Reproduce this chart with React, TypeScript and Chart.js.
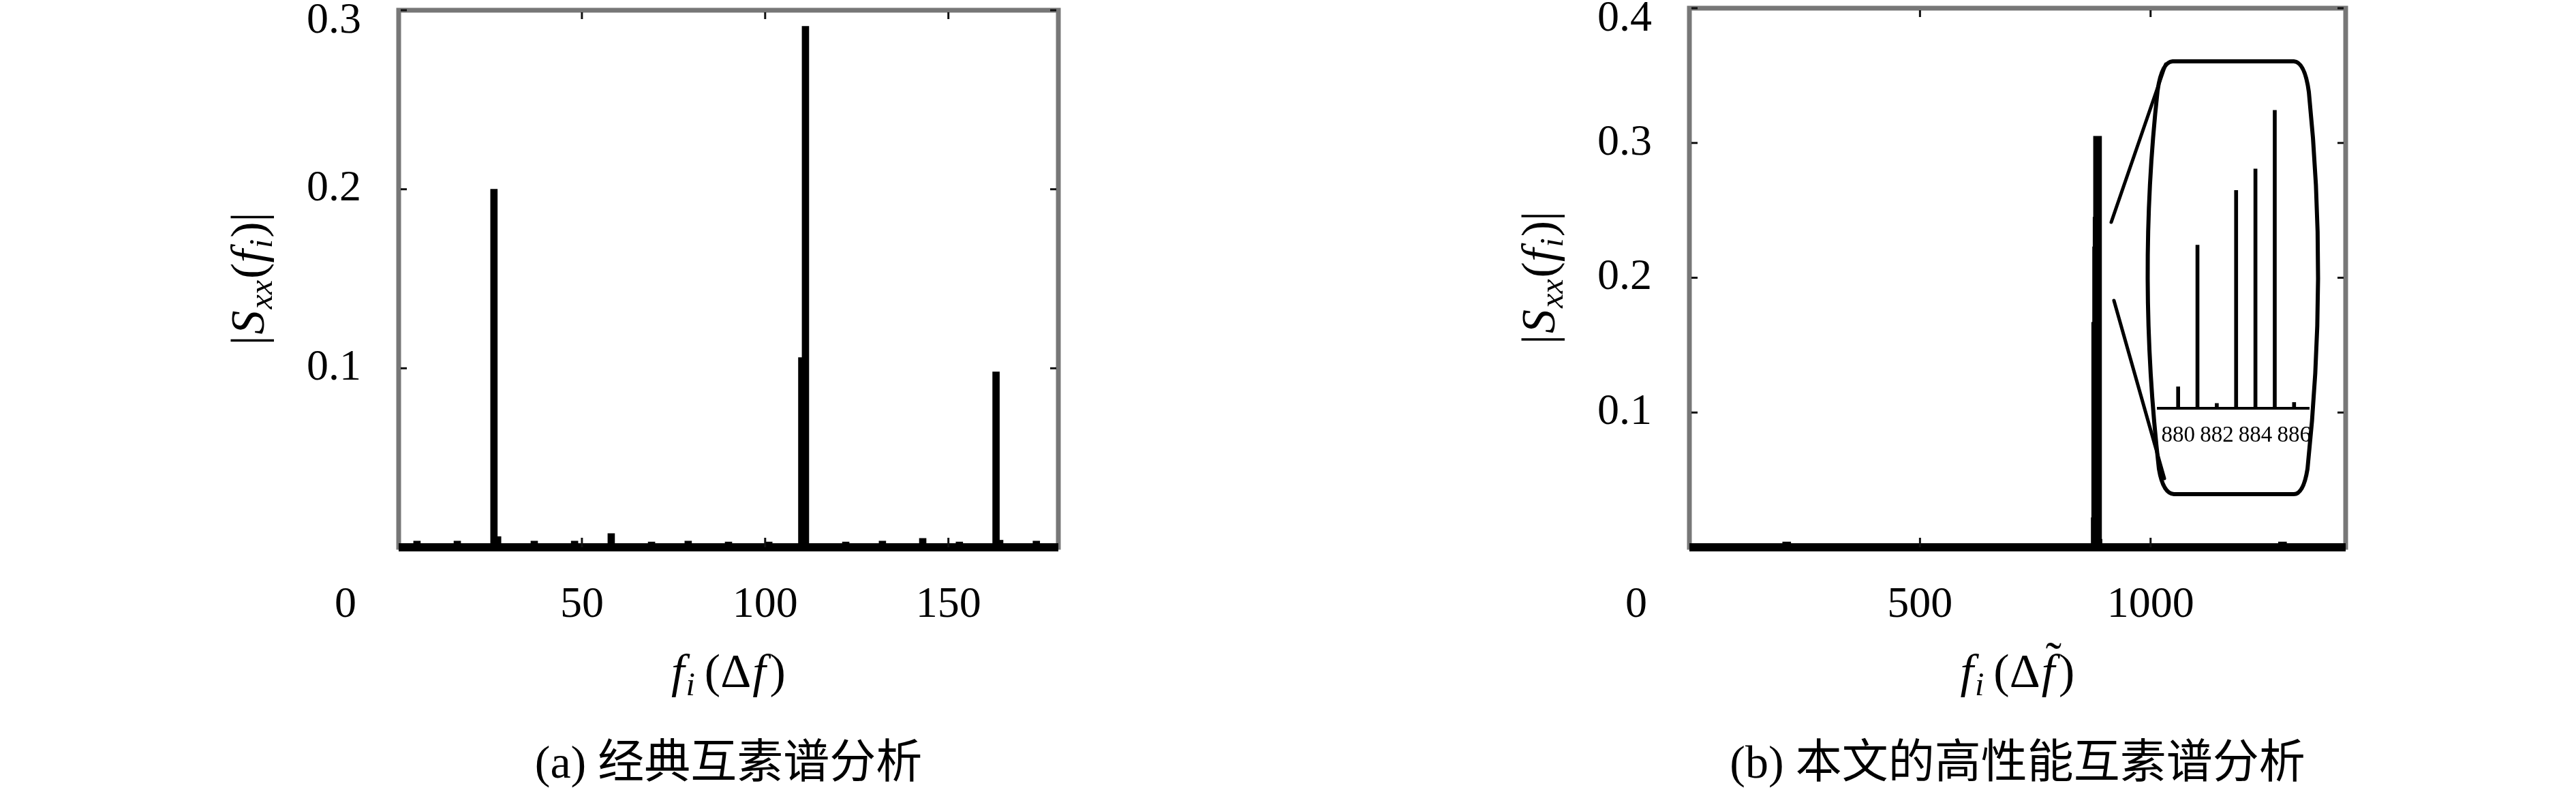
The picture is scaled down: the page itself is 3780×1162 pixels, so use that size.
import React, { useEffect, useRef } from 'react';
import { Chart, registerables } from 'chart.js';
Chart.register(...registerables);

// ---------- data: panel (a) classical coprime spectrum ----------
const leftBins = [5, 16, 26, 27, 37, 48, 58, 69, 79, 90, 101, 110, 111, 122, 132, 143, 153, 163, 164, 174];
const leftMagnitudes = [0.0035, 0.0035, 0.2, 0.006, 0.0035, 0.0035, 0.0077, 0.003, 0.0035, 0.003, 0.003, 0.106, 0.291, 0.003, 0.0035, 0.005, 0.003, 0.098, 0.004, 0.0035];
const leftXTicks = [50, 100, 150];
const leftYTicks = [0.1, 0.2, 0.3];
const leftYTickLabels = ['0.1', '0.2', '0.3'];
const leftXMax = 180;
const leftYMax = 0.3;

// ---------- data: panel (b) proposed high-performance spectrum ----------
const rightBins = [211, 879, 880, 881, 882, 883, 884, 885, 886, 1286];
const rightMagnitudes = [0.004, 0.001, 0.022, 0.167, 0.005, 0.223, 0.245, 0.305, 0.006, 0.004];
const rightXTicks = [500, 1000];
const rightYTicks = [0.1, 0.2, 0.3, 0.4];
const rightYTickLabels = ['0.1', '0.2', '0.3', '0.4'];
const rightXMax = 1423;
const rightYMax = 0.4;

// ---------- inset (zoom of panel b around the peak) ----------
const insetXMin = 878.9;
const insetXMax = 886.8;
const insetYMax = 0.33;
const insetTickValues = [880, 882, 884, 886];

const SERIF = '"Liberation Serif", "DejaVu Serif", serif';
const CJK = '"Noto Sans CJK SC", "Noto Sans CJK JP", sans-serif';

type Seg = { t: string; font: string; dy?: number; gap?: number };

function drawSegs(ctx: CanvasRenderingContext2D, segs: Seg[], cx: number, baseline: number): number[] {
  const widths = segs.map((s) => {
    ctx.font = s.font;
    return ctx.measureText(s.t).width + (s.gap || 0);
  });
  const total = widths.reduce((a, b) => a + b, 0);
  let x = cx - total / 2;
  const starts: number[] = [];
  ctx.textAlign = 'left';
  ctx.textBaseline = 'alphabetic';
  segs.forEach((s, i) => {
    ctx.font = s.font;
    starts.push(x);
    ctx.fillText(s.t, x, baseline + (s.dy || 0));
    x += widths[i];
  });
  return starts;
}

type Spec = {
  bins: number[];
  mags: number[];
  xMax: number;
  yMax: number;
  xTicks: number[];
  yTicks: number[];
  yTickLabels: string[];
  tilde: boolean;
  capPrefix: string;
  capText: string;
  barWidth: number;
};

function decorPlugin(spec: Spec) {
  return {
    id: 'decor',
    beforeDatasetsDraw(chart: any) {
      const { ctx, chartArea: a } = chart;
      ctx.save();
      ctx.strokeStyle = '#777777';
      ctx.lineWidth = 7;
      ctx.strokeRect(a.left, a.top, a.right - a.left, a.bottom - a.top);
      ctx.restore();
    },
    afterDatasetsDraw(chart: any) {
      const { ctx, chartArea: a, scales } = chart;
      const xs = scales.x;
      const ys = scales.y;
      ctx.save();
      ctx.strokeStyle = '#111';
      ctx.lineWidth = 3;
      const seg = (x1: number, y1: number, x2: number, y2: number) => {
        ctx.beginPath();
        ctx.moveTo(x1, y1);
        ctx.lineTo(x2, y2);
        ctx.stroke();
      };
      spec.xTicks.forEach((v) => {
        const px = xs.getPixelForValue(v);
        seg(px, a.top + 3, px, a.top + 13);
        seg(px, a.bottom - 14, px, a.bottom);
      });
      spec.yTicks.forEach((v) => {
        const py = ys.getPixelForValue(v);
        seg(a.left + 3, py, a.left + 12, py);
        seg(a.right - 12, py, a.right - 3, py);
      });
      ctx.fillStyle = '#000';
      ctx.font = `64px ${SERIF}`;
      ctx.textBaseline = 'middle';
      ctx.textAlign = 'center';
      spec.xTicks.forEach((v) => {
        ctx.fillText(String(v), xs.getPixelForValue(v), a.bottom + 85);
      });
      ctx.fillText('0', a.left - 78, a.bottom + 85);
      ctx.textAlign = 'right';
      spec.yTicks.forEach((v, i) => {
        const py = Math.max(ys.getPixelForValue(v), a.top + 16);
        ctx.fillText(spec.yTickLabels[i], a.left - 55, py);
      });
      const cx = (a.left + a.right) / 2;
      const big = 70;
      const small = 48;
      const starts = drawSegs(
        ctx,
        [
          { t: 'f', font: `italic ${big}px ${SERIF}`, gap: 2 },
          { t: 'i', font: `italic ${small}px ${SERIF}`, dy: 12, gap: 14 },
          { t: '(', font: `${big}px ${SERIF}` },
          { t: 'Δ', font: `${big}px ${SERIF}`, gap: 2 },
          { t: 'f', font: `italic ${big}px ${SERIF}`, gap: 6 },
          { t: ')', font: `${big}px ${SERIF}` },
        ],
        cx,
        a.bottom + 205
      );
      if (spec.tilde) {
        ctx.font = `${big}px ${SERIF}`;
        ctx.textAlign = 'left';
        ctx.fillText('˜', starts[4] + 6, a.bottom + 205 - 18);
      }
      ctx.save();
      ctx.translate(a.left - 222, (a.top + a.bottom) / 2);
      ctx.rotate(-Math.PI / 2);
      drawSegs(
        ctx,
        [
          { t: '|', font: `${big}px ${SERIF}`, gap: 2 },
          { t: 'S', font: `italic ${big}px ${SERIF}`, gap: 2 },
          { t: 'xx', font: `italic ${small}px ${SERIF}`, dy: 12, gap: 2 },
          { t: '(', font: `${big}px ${SERIF}` },
          { t: 'f', font: `italic ${big}px ${SERIF}`, gap: 2 },
          { t: 'i', font: `italic ${small}px ${SERIF}`, dy: 12, gap: 2 },
          { t: ')', font: `${big}px ${SERIF}` },
          { t: '|', font: `${big}px ${SERIF}` },
        ],
        0,
        24
      );
      ctx.restore();
      ctx.fillStyle = '#000';
      ctx.font = `68px ${SERIF}`;
      const w1 = ctx.measureText(spec.capPrefix).width;
      ctx.font = `68px ${CJK}`;
      const w2 = ctx.measureText(spec.capText).width;
      const x0 = cx - (w1 + w2) / 2;
      ctx.textAlign = 'left';
      ctx.textBaseline = 'alphabetic';
      ctx.font = `68px ${SERIF}`;
      ctx.fillText(spec.capPrefix, x0, a.bottom + 338);
      ctx.font = `68px ${CJK}`;
      ctx.fillText(spec.capText, x0 + w1, a.bottom + 338);
      ctx.restore();
    },
  };
}

const barrelPlugin = {
  id: 'barrel',
  afterDraw(chart: any) {
    const ctx = chart.ctx as CanvasRenderingContext2D;
    const ox = 1890;
    const X = (v: number) => v - ox;
    ctx.save();
    ctx.strokeStyle = '#000';
    ctx.lineCap = 'round';
    ctx.lineJoin = 'round';
    ctx.lineWidth = 6;
    ctx.beginPath();
    ctx.moveTo(X(3188), 90);
    ctx.lineTo(X(3366), 90);
    ctx.quadraticCurveTo(X(3382), 91, X(3388), 135);
    ctx.quadraticCurveTo(X(3416), 407, X(3386), 688);
    ctx.quadraticCurveTo(X(3380), 725, X(3366), 725);
    ctx.lineTo(X(3190), 725);
    ctx.quadraticCurveTo(X(3174), 724, X(3168), 688);
    ctx.quadraticCurveTo(X(3136), 407, X(3166), 133);
    ctx.quadraticCurveTo(X(3172), 91, X(3188), 90);
    ctx.closePath();
    ctx.stroke();
    ctx.lineWidth = 5;
    ctx.beginPath();
    ctx.moveTo(X(3098), 326);
    ctx.lineTo(X(3178), 94);
    ctx.moveTo(X(3102), 441);
    ctx.lineTo(X(3176), 702);
    ctx.stroke();
    ctx.restore();
  },
};

function makePanel(canvas: HTMLCanvasElement, spec: Spec, padding: any, extra: any[]) {
  const bars = spec.bins.map((b, i) => ({ x: b, y: spec.mags[i] }));
  return new Chart(canvas, {
    type: 'bar',
    data: {
      datasets: [
        {
          type: 'line',
          data: [
            { x: 0, y: 0 },
            { x: spec.xMax, y: 0 },
          ],
          borderColor: '#000',
          borderWidth: 12,
          pointRadius: 0,
          clip: false as any,
          order: 0,
        } as any,
        {
          type: 'bar',
          data: bars,
          backgroundColor: '#000',
          borderWidth: 0,
          barThickness: spec.barWidth,
          order: 1,
        } as any,
      ],
    },
    options: {
      responsive: false,
      animation: false,
      devicePixelRatio: 1,
      layout: { padding },
      plugins: { legend: { display: false }, tooltip: { enabled: false }, title: { display: false } },
      scales: {
        x: { type: 'linear', min: 0, max: spec.xMax, display: false, offset: false },
        y: { type: 'linear', min: 0, max: spec.yMax, display: false },
      },
    } as any,
    plugins: [decorPlugin(spec), ...extra],
  });
}

function makeInset(canvas: HTMLCanvasElement) {
  const bars = rightBins
    .map((b, i) => ({ x: b, y: rightMagnitudes[i] }))
    .filter((p) => p.x >= insetXMin && p.x <= insetXMax);
  const labels = {
    id: 'insetLabels',
    afterDatasetsDraw(chart: any) {
      const { ctx, chartArea: a, scales } = chart;
      ctx.save();
      ctx.fillStyle = '#000';
      ctx.font = `33px ${SERIF}`;
      ctx.textAlign = 'center';
      ctx.textBaseline = 'middle';
      insetTickValues.forEach((v) => ctx.fillText(String(v), scales.x.getPixelForValue(v), a.bottom + 40));
      ctx.restore();
    },
  };
  return new Chart(canvas, {
    type: 'bar',
    data: {
      datasets: [
        {
          type: 'line',
          data: [
            { x: insetXMin, y: 0 },
            { x: insetXMax, y: 0 },
          ],
          borderColor: '#000',
          borderWidth: 4,
          pointRadius: 0,
          clip: false as any,
          order: 0,
        } as any,
        {
          type: 'bar',
          data: bars,
          backgroundColor: '#000',
          borderWidth: 0,
          barThickness: 5,
          order: 1,
        } as any,
      ],
    },
    options: {
      responsive: false,
      animation: false,
      devicePixelRatio: 1,
      layout: { padding: { left: 25, right: 31, top: 46, bottom: 81 } },
      plugins: { legend: { display: false }, tooltip: { enabled: false } },
      scales: {
        x: { type: 'linear', min: insetXMin, max: insetXMax, display: false, offset: false },
        y: { type: 'linear', min: 0, max: insetYMax, display: false },
      },
    } as any,
    plugins: [labels],
  });
}

const leftSpec: Spec = {
  bins: leftBins,
  mags: leftMagnitudes,
  xMax: leftXMax,
  yMax: leftYMax,
  xTicks: leftXTicks,
  yTicks: leftYTicks,
  yTickLabels: leftYTickLabels,
  tilde: false,
  capPrefix: '(a) ',
  capText: '经典互素谱分析',
  barWidth: 10,
};

const rightSpec: Spec = {
  bins: rightBins,
  mags: rightMagnitudes,
  xMax: rightXMax,
  yMax: rightYMax,
  xTicks: rightXTicks,
  yTicks: rightYTicks,
  yTickLabels: rightYTickLabels,
  tilde: true,
  capPrefix: '(b) ',
  capText: '本文的高性能互素谱分析',
  barWidth: 12,
};

export default function App() {
  const leftRef = useRef<HTMLCanvasElement>(null);
  const rightRef = useRef<HTMLCanvasElement>(null);
  const insetRef = useRef<HTMLCanvasElement>(null);

  useEffect(() => {
    const charts: Chart[] = [];
    charts.push(makePanel(leftRef.current!, leftSpec, { left: 585, top: 15, right: 1890 - 1553, bottom: 1162 - 803 }, []));
    charts.push(
      makePanel(rightRef.current!, rightSpec, { left: 2479 - 1890, top: 12, right: 3780 - 3442, bottom: 1162 - 803 }, [barrelPlugin])
    );
    charts.push(makeInset(insetRef.current!));
    return () => charts.forEach((c) => c.destroy());
  }, []);

  const cs = (left: number, top: number, w: number, h: number): React.CSSProperties => ({
    position: 'absolute',
    left,
    top,
    width: w,
    height: h,
  });

  return (
    <div style={{ position: 'absolute', left: 0, top: 0, width: 3780, height: 1162, background: '#fff', overflow: 'hidden' }}>
      <canvas ref={leftRef} width={1890} height={1162} style={cs(0, 0, 1890, 1162)} />
      <canvas ref={rightRef} width={1890} height={1162} style={cs(1890, 0, 1890, 1162)} />
      <canvas ref={insetRef} width={280} height={600} style={cs(3140, 80, 280, 600)} />
    </div>
  );
}
